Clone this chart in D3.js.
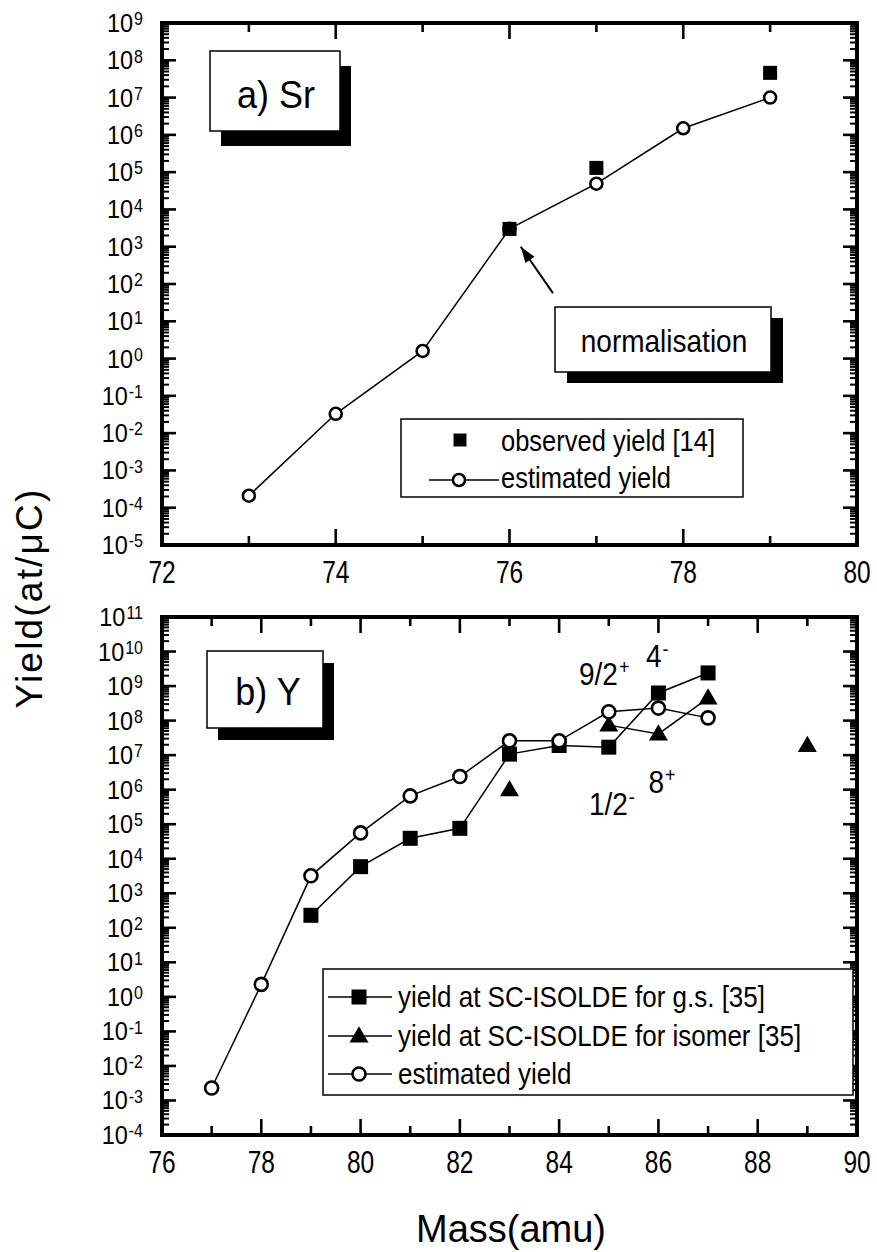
<!DOCTYPE html>
<html><head><meta charset="utf-8">
<script src="https://cdn.jsdelivr.net/npm/d3@7"></script>
<style>body{margin:0;background:#fff}</style>
</head><body>
<script>
// ---------- DATA ----------
// Panel a) Sr
const srMass = [73, 74, 75, 76, 77, 78, 79];
const srEstimated = [2.1e-4, 3.3e-2, 1.6, 3.0e3, 4.9e4, 1.5e6, 1.0e7];
const srObsMass = [76, 77, 79];
const srObserved = [3.0e3, 1.3e5, 4.6e7];
// Panel b) Y
const yEstMass = [77, 78, 79, 80, 81, 82, 83, 84, 85, 86, 87];
const yEstimated = [2.3e-3, 2.3, 3.2e3, 5.6e4, 6.6e5, 2.4e6, 2.6e7, 2.6e7, 1.8e8, 2.3e8, 1.2e8];
const yGsMass = [79, 80, 81, 82, 83, 84, 85, 86, 87];
const yGs = [2.3e2, 5.9e3, 3.9e4, 7.6e4, 1.07e7, 1.9e7, 1.7e7, 6.3e8, 2.4e9];
const yIsoMass = [83, 85, 86, 87, 89];
const yIso = [1.0e6, 7.4e7, 4.1e7, 4.5e8, 1.9e7];
const yIsoLinkedMass = [85, 86, 87];
// Tick labels
const srXTicks = [72, 74, 76, 78, 80];
const yXTicks = [76, 78, 80, 82, 84, 86, 88, 90];
const srYExp = [-5, -4, -3, -2, -1, 0, 1, 2, 3, 4, 5, 6, 7, 8, 9];
const yYExp = [-4, -3, -2, -1, 0, 1, 2, 3, 4, 5, 6, 7, 8, 9, 10, 11];
// Annotation texts (spin labels, anchored in data coordinates)
const spinLabels = [
  {t: "9/2", s: "+", m: 84.4, v: 1.1e9},
  {t: "4", s: "-", m: 85.75, v: 3.6e9},
  {t: "8", s: "+", m: 85.8, v: 8e5},
  {t: "1/2", s: "-", m: 84.6, v: 1.9e5}
];
const srLegend = ["observed yield [14]", "estimated yield"];
const yLegend = ["yield at SC-ISOLDE for g.s. [35]", "yield at SC-ISOLDE for isomer [35]", "estimated yield"];

// ---------- DRAW ----------
const FONT = "'Liberation Sans', Arial, Helvetica, sans-serif";
const svg = d3.select("body").append("svg").attr("width", 877).attr("height", 1252)
  .style("font-family", FONT);
svg.append("rect").attr("width", 877).attr("height", 1252).attr("fill", "#fff");

const LEFT = 162, RIGHT = 857;

function stext(g, x, y, str, size, anchor, sy, sx) {
  return g.append("text")
    .attr("transform", `translate(${x},${y}) scale(${sx || 1},${sy || 1})`)
    .attr("font-size", size).attr("text-anchor", anchor || "start").attr("fill", "#000")
    .text(str);
}

function panel(p) {
  const g = svg.append("g");
  const x = d3.scaleLinear().domain(p.xDomain).range([LEFT, RIGHT]);
  const y = d3.scaleLog().domain(p.yDomain).range([p.bottom, p.top]);
  const xs = d3.range(p.xDomain[0], p.xDomain[1] + 1);
  xs.forEach(v => {
    const major = p.xTicks.includes(v);
    const len = major ? 16 : 9;
    [[p.bottom, -len], [p.top, len]].forEach(([y0, d]) => {
      g.append("line").attr("x1", x(v)).attr("x2", x(v)).attr("y1", y0).attr("y2", y0 + d)
        .attr("stroke", "#000").attr("stroke-width", 2.6);
    });
  });
  p.xTicks.forEach(v => {
    stext(g, x(v), p.bottom + 38, String(v), 24.5, "middle", 1.25);
  });
  const e0 = Math.log10(p.yDomain[0]), e1 = Math.log10(p.yDomain[1]);
  for (let e = e0; e <= e1; e++) {
    const yy = y(Math.pow(10, e));
    [[LEFT, 14], [RIGHT, -14]].forEach(([x0, d]) => {
      g.append("line").attr("x1", x0).attr("x2", x0 + d).attr("y1", yy).attr("y2", yy)
        .attr("stroke", "#000").attr("stroke-width", 2.6);
    });
    if (e < e1) {
      for (let k = 2; k <= 9; k++) {
        const ym = y(k * Math.pow(10, e));
        [[LEFT, 7], [RIGHT, -7]].forEach(([x0, d]) => {
          g.append("line").attr("x1", x0).attr("x2", x0 + d).attr("y1", ym).attr("y2", ym)
            .attr("stroke", "#000").attr("stroke-width", 2);
        });
      }
    }
  }
  p.yExp.forEach(e => {
    const yy = y(Math.pow(10, e));
    const t = g.append("text")
      .attr("transform", `translate(143,${yy + 9}) scale(1,1.12)`)
      .attr("text-anchor", "end").attr("fill", "#000");
    t.append("tspan").attr("font-size", 23.5).text("10");
    t.append("tspan").attr("font-size", 16).attr("dy", -6).attr("dx", 1).text(String(e));
  });
  g.append("rect").attr("x", LEFT).attr("y", p.top).attr("width", RIGHT - LEFT)
    .attr("height", p.bottom - p.top).attr("fill", "none").attr("stroke", "#000").attr("stroke-width", 4);
  return {g, x, y};
}

function shadowBox(g, x0, y0, w, h, dx, dy) {
  g.append("rect").attr("x", x0 + dx).attr("y", y0 + dy).attr("width", w).attr("height", h).attr("fill", "#000");
  g.append("rect").attr("x", x0).attr("y", y0).attr("width", w).attr("height", h)
    .attr("fill", "#fff").attr("stroke", "#000").attr("stroke-width", 1.5);
}

const lineGen = (x, y) => d3.line().x(d => x(d[0])).y(d => y(d[1]));

function circle(g, cx, cy, r) {
  g.append("circle").attr("cx", cx).attr("cy", cy).attr("r", r)
    .attr("fill", "#fff").attr("stroke", "#000").attr("stroke-width", 2.6);
}
function square(g, cx, cy, s) {
  g.append("rect").attr("x", cx - s / 2).attr("y", cy - s / 2).attr("width", s).attr("height", s).attr("fill", "#000");
}
function triangle(g, cx, cy, s) {
  const h = s * 0.85;
  g.append("path").attr("d", `M${cx},${cy - h * 0.6}L${cx + s / 2},${cy + h * 0.4}L${cx - s / 2},${cy + h * 0.4}Z`).attr("fill", "#000");
}

// ----- Panel a -----
const A = panel({xDomain: [72, 80], yDomain: [1e-5, 1e9], top: 23, bottom: 545, xTicks: srXTicks, yExp: srYExp});
{
  const {g, x, y} = A;
  shadowBox(g, 210, 51, 130, 80, 11, 15);
  stext(g, 276, 108, "a) Sr", 36, "middle", 1.08);
  shadowBox(g, 555, 307, 216, 65, 12, 11);
  stext(g, 664, 352, "normalisation", 28, "middle", 1.12);
  const tip = [x(76.13), y(1.0e3)], tail = [x(76.5), y(57)];
  g.append("line").attr("x1", tail[0]).attr("y1", tail[1]).attr("x2", tip[0]).attr("y2", tip[1])
    .attr("stroke", "#000").attr("stroke-width", 2);
  const ang = Math.atan2(tip[1] - tail[1], tip[0] - tail[0]);
  const L = 16, Wd = 5.5;
  const bx = tip[0] - L * Math.cos(ang), by = tip[1] - L * Math.sin(ang);
  g.append("path").attr("d", `M${tip[0]},${tip[1]}L${bx + Wd * Math.sin(ang)},${by - Wd * Math.cos(ang)}L${bx - Wd * Math.sin(ang)},${by + Wd * Math.cos(ang)}Z`).attr("fill", "#000");

  g.append("path").datum(srMass.map((m, i) => [m, srEstimated[i]])).attr("d", lineGen(x, y))
    .attr("fill", "none").attr("stroke", "#000").attr("stroke-width", 1.5);
  srMass.forEach((m, i) => circle(g, x(m), y(srEstimated[i]), 6));
  srObsMass.forEach((m, i) => square(g, x(m), y(srObserved[i]), 14));

  g.append("rect").attr("x", 401).attr("y", 419).attr("width", 342).attr("height", 78)
    .attr("fill", "#fff").attr("stroke", "#000").attr("stroke-width", 1.5);
  square(g, 460, 440, 13);
  stext(g, 501, 451, srLegend[0], 25.5, "start", 1.15);
  g.append("line").attr("x1", 429).attr("x2", 499).attr("y1", 480).attr("y2", 480).attr("stroke", "#000").attr("stroke-width", 1.5);
  circle(g, 459, 480, 6);
  stext(g, 501, 488, srLegend[1], 25.5, "start", 1.15);
}

// ----- Panel b -----
const B = panel({xDomain: [76, 90], yDomain: [1e-4, 1e11], top: 617, bottom: 1135, xTicks: yXTicks, yExp: yYExp});
{
  const {g, x, y} = B;
  shadowBox(g, 207, 651, 116, 77, 11, 12);
  stext(g, 268, 705, "b) Y", 36, "middle", 1.08);

  const lg = lineGen(x, y);
  g.append("path").datum(yEstMass.map((m, i) => [m, yEstimated[i]])).attr("d", lg)
    .attr("fill", "none").attr("stroke", "#000").attr("stroke-width", 1.5);
  g.append("path").datum(yGsMass.map((m, i) => [m, yGs[i]])).attr("d", lg)
    .attr("fill", "none").attr("stroke", "#000").attr("stroke-width", 1.5);
  g.append("path").datum(yIsoLinkedMass.map(m => [m, yIso[yIsoMass.indexOf(m)]])).attr("d", lg)
    .attr("fill", "none").attr("stroke", "#000").attr("stroke-width", 1.5);
  yGsMass.forEach((m, i) => square(g, x(m), y(yGs[i]), 15));
  yIsoMass.forEach((m, i) => triangle(g, x(m), y(yIso[i]), 19));
  yEstMass.forEach((m, i) => circle(g, x(m), y(yEstimated[i]), 6.5));

  spinLabels.forEach(l => {
    const t = g.append("text").attr("transform", `translate(${x(l.m)},${y(l.v)}) scale(1,1.1)`).attr("fill", "#000");
    t.append("tspan").attr("font-size", 28).text(l.t);
    t.append("tspan").attr("font-size", 18).attr("dy", -10).attr("dx", 1).text(l.s);
  });

  g.append("rect").attr("x", 323).attr("y", 969).attr("width", 530).attr("height", 126)
    .attr("fill", "#fff").attr("stroke", "#000").attr("stroke-width", 1.5);
  const rows = [997, 1036, 1074];
  rows.forEach((ry, i) => {
    g.append("line").attr("x1", 328).attr("x2", 392).attr("y1", ry).attr("y2", ry).attr("stroke", "#000").attr("stroke-width", 1.5);
    if (i === 0) square(g, 359, ry, 15);
    if (i === 1) triangle(g, 359, ry, 19);
    if (i === 2) circle(g, 359, ry, 6.5);
    stext(g, 398, ry + 10, yLegend[i], 26, "start", 1.1);
  });
}

// Axis titles
svg.append("text").attr("transform", "translate(42,598) rotate(-90)")
  .attr("text-anchor", "middle").attr("font-size", 37).attr("letter-spacing", 2.2).attr("fill", "#000")
  .text("Yield(at/μC)");
svg.append("text").attr("transform", "translate(511,1242)")
  .attr("text-anchor", "middle").attr("font-size", 38).attr("fill", "#000").text("Mass(amu)");
</script>
</body></html>
